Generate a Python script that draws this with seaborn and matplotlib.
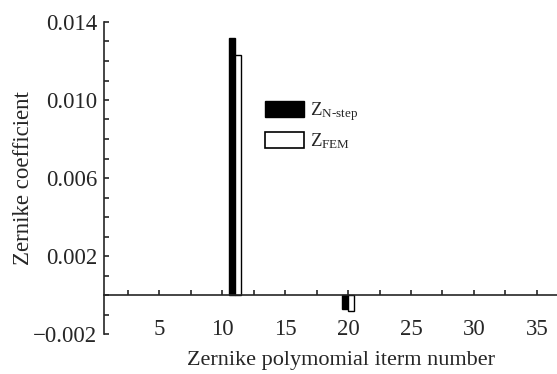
import numpy as np
import pandas as pd
import matplotlib
matplotlib.use("Agg")
import matplotlib.pyplot as plt
import seaborn as sns
from matplotlib.patches import Patch
from matplotlib.ticker import MultipleLocator

# Data
terms = list(range(1, 37))
n_step = [0.0] * 36
fem = [0.0] * 36
n_step[10] = 0.0132   # term 11
fem[10] = 0.0123
n_step[19] = -0.0007  # term 20
fem[19] = -0.0008
methods = ["N-step", "FEM"]

df = pd.DataFrame({
    "term": terms * 2,
    "value": n_step + fem,
    "method": ["N-step"] * 36 + ["FEM"] * 36,
})

sns.set_style("ticks")
plt.rcParams["font.family"] = ["Liberation Serif", "DejaVu Serif"]
plt.rcParams["mathtext.fontset"] = "custom"
plt.rcParams["mathtext.rm"] = "Liberation Serif"
plt.rcParams["mathtext.it"] = "Liberation Serif:italic"

fig = plt.figure(figsize=(5.57, 3.74), dpi=100)
ax = fig.add_axes([104 / 557, 40 / 374, 1 - 104 / 557, 312 / 374])

sns.barplot(data=df, x="term", y="value", hue="method", native_scale=True,
            palette={"N-step": "black", "FEM": "white"}, edgecolor="black",
            linewidth=1.0, width=0.9, ax=ax, legend=False)
for p in ax.patches:
    if p.get_height() == 0:
        p.set_linewidth(0)

ax.set_xlim(0.6, 36.6)
ax.set_ylim(-0.002, 0.014)

ax.spines["top"].set_visible(False)
ax.spines["right"].set_visible(False)
ax.spines["bottom"].set_position(("data", 0))
ax.spines["left"].set_linewidth(1.2)
ax.spines["bottom"].set_linewidth(1.2)

ax.set_xticks([5, 10, 15, 20, 25, 30, 35])
ax.xaxis.set_minor_locator(MultipleLocator(2.5))
ax.set_yticks([-0.002, 0.002, 0.006, 0.010, 0.014])
ax.set_yticklabels(["\u22120.002", "0.002", "0.006", "0.010", "0.014"])
ax.yaxis.set_minor_locator(MultipleLocator(0.001))

ax.tick_params(axis="x", which="both", direction="in", length=3.5, width=1.2,
               pad=17.5, labelsize=16.5)
ax.tick_params(axis="y", which="both", direction="in", length=3.5, width=1.2,
               labelsize=16.5, pad=5)

ax.set_xlabel("Zernike polymomial iterm number", fontsize=16)
ax.xaxis.set_label_coords(0.523, -0.055)
ax.set_ylabel("Zernike coefficient", fontsize=16.5, labelpad=-1)

handles = [Patch(facecolor="black", edgecolor="black"),
           Patch(facecolor="white", edgecolor="black", linewidth=1.2)]
labels = [r"$\mathrm{Z}_{\mathrm{N\text{-}step}}$", r"$\mathrm{Z}_{\mathrm{FEM}}$"]
ax.legend(handles, labels, loc="upper left", bbox_to_anchor=(0.318, 0.804),
          frameon=False, fontsize=13.5, handlelength=2.1, handleheight=0.95,
          handletextpad=0.3, labelspacing=0.45)

fig.savefig("out.png", dpi=100)
